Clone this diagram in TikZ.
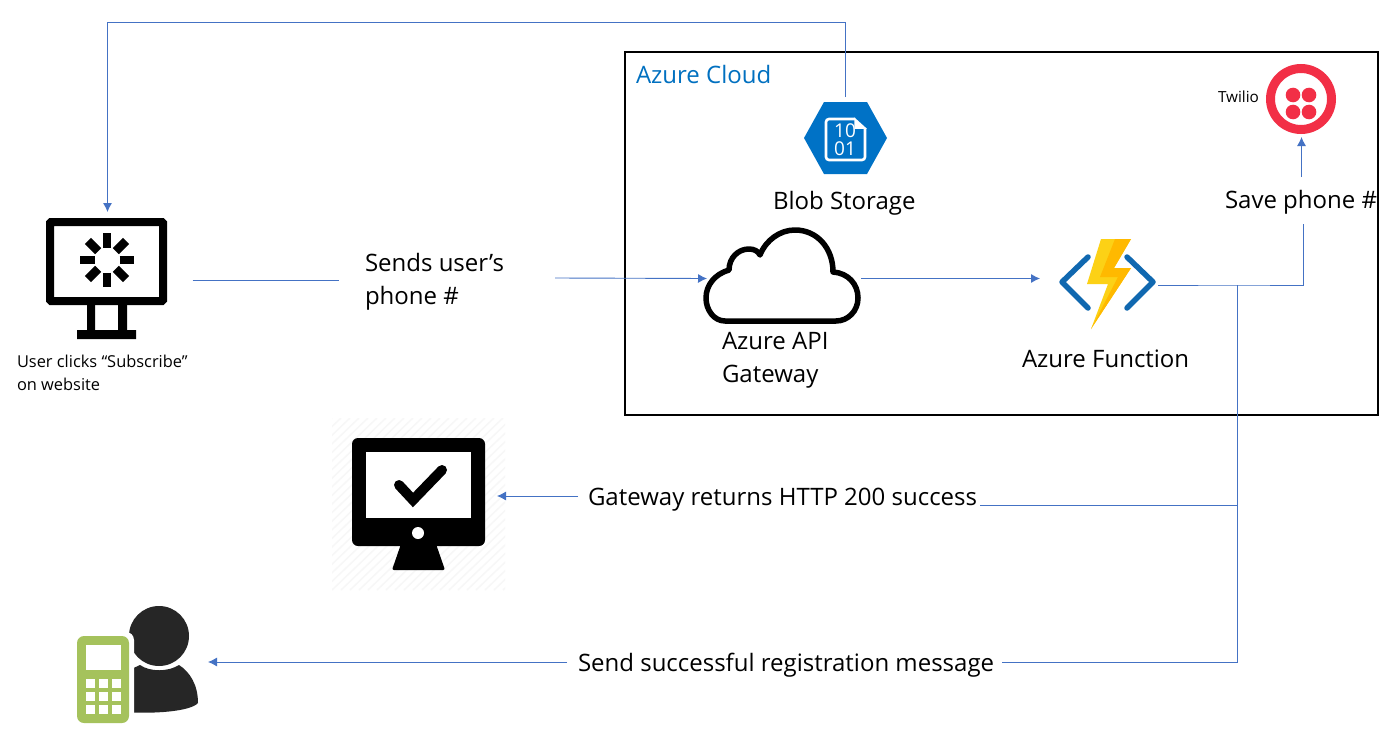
\documentclass[tikz,border=0pt]{standalone}
\usepackage{fontspec}
\setmainfont{Open Sans}
\usetikzlibrary{arrows.meta,calc}
\definecolor{wirec}{HTML}{4472C4}
\definecolor{azblue}{HTML}{0072C6}
\definecolor{fnblue}{HTML}{1068B0}
\definecolor{azlabel}{HTML}{0070C0}
\definecolor{twred}{HTML}{F22F46}
\definecolor{boltA}{HTML}{FCD116}
\definecolor{boltB}{HTML}{FFB900}
\definecolor{phoneg}{HTML}{A5C25C}
\definecolor{persong}{HTML}{262626}
\tikzset{
 wire/.style={draw=wirec,line width=0.9pt},
 arr/.style={wire,-{Latex[length=9pt,width=9pt]}},
 iconbox/.style={inner sep=0pt,outer sep=0pt},
 lab/.style={inner sep=0pt,outer sep=0pt,anchor=base west,font=\fontsize{24}{33}\selectfont},
 lab2/.style={inner sep=0pt,outer sep=0pt,anchor=west,align=left,font=\fontsize{24}{33}\selectfont},
 small/.style={inner sep=0pt,outer sep=0pt,anchor=west,align=left,font=\fontsize{16.4}{23}\selectfont},
}
\begin{document}
\begin{tikzpicture}[x=1pt,y=-1pt]
\useasboundingbox (0,0) rectangle (1394,752);
\fill[white] (0,0) rectangle (1394,752);
% faint hatched background
\begin{scope}
\clip (332,418) rectangle (505,590);
\foreach \k in {0,9,...,360} \draw[black!3,line width=1.5pt] (332+\k-180,590) -- (332+\k,418);
\end{scope}
% cloud box
\node[draw=black,line width=2pt,minimum width=753pt,minimum height=363pt,inner sep=0pt,outer sep=0pt] (box) at (1001.5,233.5) {};
\node[lab,text=azlabel] (cloudtitle) at (636,84) {Azure Cloud};
% icon anchors
\node[iconbox,minimum width=170pt,minimum height=136pt] (site) at (107.5,280) {};
\node[iconbox,minimum width=84pt,minimum height=77pt] (blob) at (845.5,135.5) {};
\node[iconbox,minimum width=70pt,minimum height=70pt] (twilio) at (1301.5,102) {};
\node[iconbox,minimum width=154pt,minimum height=94pt] (apigw) at (784,278.5) {};
\node[iconbox,minimum width=118pt,minimum height=92pt] (func) at (1099,278.5) {};
\node[iconbox,minimum width=145pt,minimum height=132pt] (okmon) at (424.5,496) {};
\node[iconbox,minimum width=130pt,minimum height=120pt] (person) at (143,662) {};
% site monitor
\draw[black,line width=8pt,rounded corners=1pt] (50,222) rectangle (163,301);
\fill[black] (87,305) rectangle (95,330) (118,305) rectangle (127,330) (77,330) rectangle (136,339);
\foreach \a in {0,45,...,315}
 \draw[black,line width=8.5pt] ($(107,260)+(\a:12.5)$) -- ($(107,260)+(\a:27)$);
% blob icon
\fill[azblue] (804,138) -- (824,102) -- (867,102) -- (887,138) -- (867,174) -- (824,174) -- cycle;
\draw[white,line width=2.6pt,rounded corners=3pt] (855,119) -- (826,119) -- (826,160) -- (865,160) -- (865,129);
\draw[white,line width=1.5pt,fill=white] (855,119) -- (855,128) -- (865,128) -- cycle;
\node[iconbox,text=white,font=\fontsize{19}{19}\selectfont] (b10) at (845,131) {10};
\node[iconbox,text=white,font=\fontsize{19}{19}\selectfont] (b01) at (845,149) {01};
% twilio icon
\draw[twred,line width=9pt] (1301,99) circle (30.5);
\fill[twred] (1293,95) circle (7.3) (1309,95) circle (7.3) (1293,112) circle (7.3) (1309,112) circle (7.3);
% cloud icon
\draw[black,line width=5.5pt,line join=round]
 (725,321) .. controls (714,321) and (706,310) .. (706,298)
 .. controls (706,285) and (715,274) .. (729,270)
 .. controls (729,258) and (738,249) .. (749,249)
 .. controls (754,249) and (758,251) .. (760,255)
 .. controls (766,240) and (780,230) .. (795,230)
 .. controls (817,230) and (833,248) .. (833,272)
 .. controls (848,273) and (858,284) .. (858,298)
 .. controls (858,311) and (848,321) .. (836,321) -- cycle;
% function icon
\draw[fnblue,line width=5.5pt,line cap=round,line join=round] (1088,257) -- (1062,282) -- (1088,308);
\draw[fnblue,line width=5.5pt,line cap=round,line join=round] (1127,257) -- (1153,282) -- (1127,308);
\fill[boltA] (1101,239) -- (1131,239) -- (1114,268) -- (1131,268) -- (1091,329) -- (1108,284) -- (1087,284) -- cycle;
\fill[boltB] (1115,239) -- (1131,239) -- (1114,268) -- (1131,268) -- (1091,329) -- (1118,277) -- (1100,277) -- cycle;
% check monitor
\fill[black,rounded corners=6pt] (352,438) rectangle (485,546);
\fill[white] (366,452) rectangle (471,518);
\fill[white] (418,533) circle (6);
\fill[black,rounded corners=2pt] (401,544) -- (436,544) -- (445,570) -- (392,570) -- cycle;
\draw[black,line width=10pt,line cap=round,line join=miter] (399,485) -- (413,500) -- (442,470);
% person and phone
\fill[persong] (159,636) circle (30);
\fill[persong] (140,665) .. controls (150,672) and (168,672) .. (179,665)
 .. controls (190,672) and (198,685) .. (198,703)
 .. controls (190,712) and (150,714) .. (125,712) -- (125,672) -- cycle;
\fill[white,rounded corners=8pt] (73,632) rectangle (134,727);
\fill[phoneg,rounded corners=7pt] (77,636) rectangle (129,723);
\fill[white] (86,645) rectangle (121,670);
\foreach \cx in {86,99,112} \foreach \cy in {679,692,705}
 \fill[white] (\cx,\cy) rectangle (\cx+9,\cy+9);
% labels
\node[small] (clicks) at (17,373) {User clicks “Subscribe”\\on website};
\node[lab2] (sends) at (365,281.5) {Sends user’s\\phone \#};
\node[lab] (blobl) at (773,209) {Blob Storage};
\node[lab] (save) at (1225,208) {Save phone \#};
\node[font=\fontsize{15.3}{15}\selectfont,inner sep=0pt,outer sep=0pt,anchor=base west] (twl) at (1218,102) {Twilio};
\node[lab2] (gwl) at (722,360.5) {Azure API\\Gateway};
\node[lab] (fnl) at (1022,367) {Azure Function};
\node[lab] (ret) at (588,505) {Gateway returns HTTP 200 success};
\node[lab] (reg) at (578,671) {Send successful registration message};
% connector free ends
\coordinate (corner) at (107.5,22);
\coordinate (sendsL) at (339,280);
\coordinate (sendsR) at (555,278);
\coordinate (trunk) at (1237.5,285);
\coordinate (saveB) at (1303.5,224);
\coordinate (saveT) at (1301.5,177);
\coordinate (retR) at (980,505);
\coordinate (retL) at (578,496);
\coordinate (regR) at (1002,662);
\coordinate (regL) at (567,662);
% connectors
\draw[arr] (blob.north) |- (corner) -- (site.north);
\draw[wire] (site.east) -- (sendsL);
\draw[arr] (sendsR) -- (apigw.west);
\draw[arr] (apigw.east) -- (func.west);
\draw[wire] (func.east |- trunk) -- (trunk) -| (saveB);
\draw[arr] (saveT) -- (twilio.south);
\draw[wire] (trunk) |- (regR);
\draw[wire] (trunk |- retR) -- (retR);
\draw[arr] (retL) -- (okmon.east);
\draw[arr] (regL) -- (person.east);
\end{tikzpicture}
\end{document}
